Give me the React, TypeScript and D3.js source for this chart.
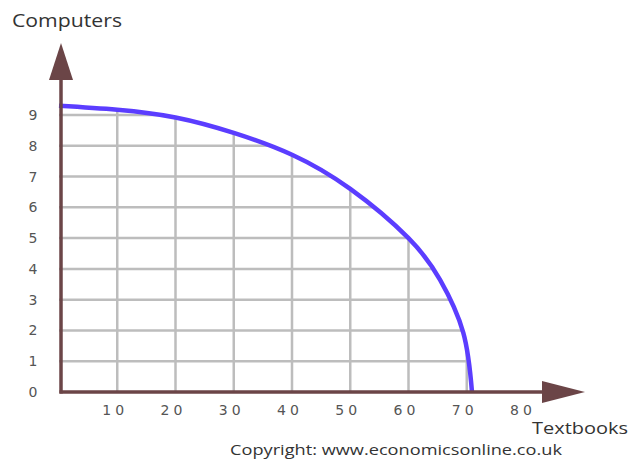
import * as d3 from 'd3'
import { useEffect, useRef } from 'react'

// production possibility frontier
const textbooks = [0, 10, 20, 30, 40, 50, 60, 65.4, 69.4, 70.9]
const computers = [9.3, 9.17, 8.92, 8.42, 7.71, 6.6, 5.0, 3.65, 1.93, 0]

const xTicks = [10, 20, 30, 40, 50, 60, 70, 80]
const yTicks = [0, 1, 2, 3, 4, 5, 6, 7, 8, 9]

const axisColor = '#6b4547'
const gridColor = '#bdbdbd'
const curveColor = '#5b3dff'

const App = () => {
  const ref = useRef<SVGSVGElement>(null)

  useEffect(() => {
    if (!ref.current) return
    const width = 633
    const height = 459

    const x = d3.scaleLinear().domain([0, 80]).range([59, 525])
    const y = d3.scaleLinear().domain([0, 9]).range([392, 115])

    const svg = d3.select(ref.current)
      .attr('width', width)
      .attr('height', height)

    const root = svg.append('g')

    const data = textbooks.map((t, i) => ({ t, c: computers[i] }))

    // grid only lives under the curve
    const area = d3.area<{ t: number, c: number }>()
      .x(d => x(d.t))
      .y0(y(0))
      .y1(d => y(d.c))
      .curve(d3.curveNatural)

    root.append('defs').append('clipPath')
      .attr('id', 'under')
      .append('path')
      .attr('d', area(data) as string)

    const grid = root.append('g')
      .attr('clip-path', 'url(#under)')
      .attr('stroke', gridColor)
      .attr('stroke-width', 2.5)

    grid.selectAll('line.h')
      .data(yTicks.filter(v => v > 0))
      .enter()
      .append('line')
      .attr('class', 'h')
      .attr('x1', x(0))
      .attr('x2', x(80))
      .attr('y1', d => y(d))
      .attr('y2', d => y(d))

    grid.selectAll('line.v')
      .data(xTicks)
      .enter()
      .append('line')
      .attr('class', 'v')
      .attr('x1', d => x(d))
      .attr('x2', d => x(d))
      .attr('y1', y(0))
      .attr('y2', y(10))

    // the curve
    const line = d3.line<{ t: number, c: number }>()
      .x(d => x(d.t))
      .y(d => y(d.c))
      .curve(d3.curveNatural)

    root.append('path')
      .datum(data)
      .attr('fill', 'none')
      .attr('stroke', curveColor)
      .attr('stroke-width', 4.5)
      .attr('d', line)

    // axes with arrow heads
    const ox = x(0) + 2
    const oy = y(0)
    root.append('line')
      .attr('x1', ox).attr('x2', ox)
      .attr('y1', oy + 1.5).attr('y2', 78)
      .attr('stroke', axisColor)
      .attr('stroke-width', 3.5)
    root.append('path')
      .attr('d', `M${ox},43 L${ox + 12},80 L${ox - 12},80 Z`)
      .attr('fill', axisColor)

    root.append('line')
      .attr('x1', ox - 1.5).attr('x2', 545)
      .attr('y1', oy).attr('y2', oy)
      .attr('stroke', axisColor)
      .attr('stroke-width', 3.5)
    root.append('path')
      .attr('d', `M585,${oy} L542,${oy - 11} L542,${oy + 11} Z`)
      .attr('fill', axisColor)

    // tick labels
    root.selectAll('text.xt')
      .data(xTicks)
      .enter()
      .append('text')
      .attr('class', 'xt')
      .attr('x', d => x(d) - 2)
      .attr('y', 415)
      .attr('text-anchor', 'middle')
      .attr('font-family', 'DejaVu Sans')
      .attr('font-size', 14)
      .attr('letter-spacing', 4)
      .attr('fill', '#555')
      .text(d => d)

    root.selectAll('text.yt')
      .data(yTicks)
      .enter()
      .append('text')
      .attr('class', 'yt')
      .attr('x', 33)
      .attr('y', d => y(d) + 5)
      .attr('text-anchor', 'middle')
      .attr('font-family', 'DejaVu Sans')
      .attr('font-size', 14)
      .attr('fill', '#555')
      .text(d => d)

    // titles
    root.append('text')
      .attr('x', 12)
      .attr('y', 27)
      .attr('font-family', 'Open Sans')
      .attr('font-size', 18)
      .attr('fill', '#333')
      .attr('textLength', 110)
      .attr('lengthAdjust', 'spacingAndGlyphs')
      .text('Computers')

    root.append('text')
      .attr('x', 532)
      .attr('y', 434)
      .attr('font-family', 'Open Sans')
      .attr('font-size', 17)
      .attr('fill', '#333')
      .attr('textLength', 96)
      .attr('lengthAdjust', 'spacingAndGlyphs')
      .text('Textbooks')

    root.append('text')
      .attr('x', 230)
      .attr('y', 455)
      .attr('font-family', 'Open Sans')
      .attr('font-size', 15)
      .attr('fill', '#333')
      .attr('textLength', 332)
      .attr('lengthAdjust', 'spacingAndGlyphs')
      .text('Copyright: www.economicsonline.co.uk')

    return () => {
      root.remove()
    }
  }, [])

  return (
    <svg ref={ref} style={{ position: 'absolute', left: 0, top: 0, background: '#fff' }} />
  )
}

export default App
